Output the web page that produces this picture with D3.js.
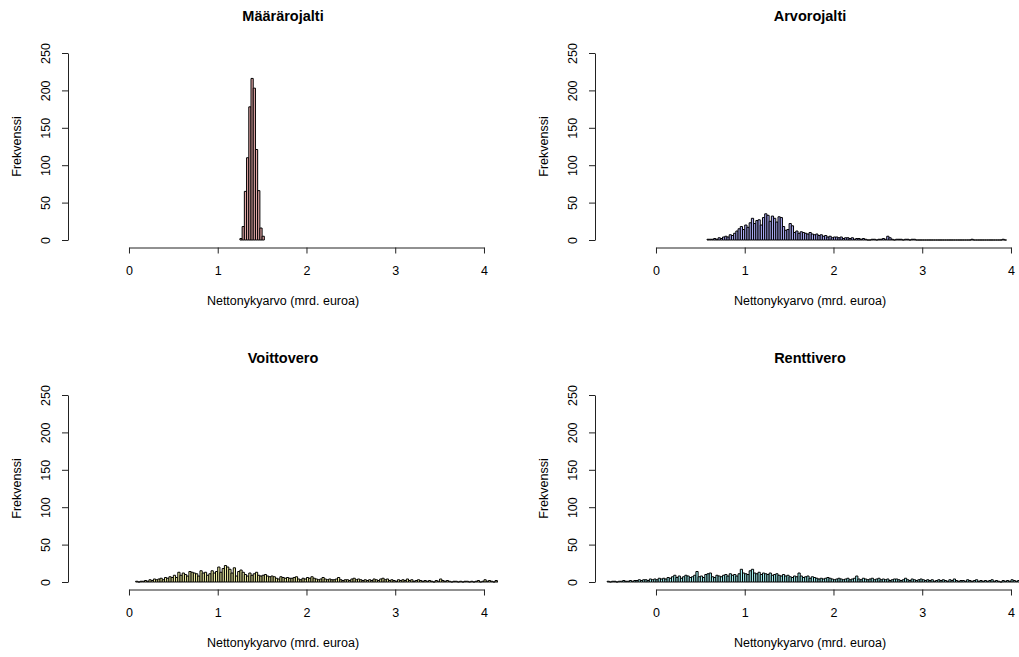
<!DOCTYPE html>
<html>
<head>
<meta charset="utf-8">
<script src="https://cdn.jsdelivr.net/npm/d3@7"></script>
<style>
  body { margin: 0; background: #fff; }
  svg { display: block; font-family: "Liberation Sans", Arial, sans-serif; }
</style>
</head>
<body>
<div id="chart"></div>
<script>
// histogram data, bin width 0.025 (mrd. euroa), counts
var binWidth = 0.025;

var titles = ["Määrärojalti", "Arvorojalti", "Voittovero", "Renttivero"];
var fills = ["#e4a8a8", "#aaaaf4", "#f0f0a4", "#a4f0f0"];

var yTicks = [0, 50, 100, 150, 200, 250];
var xTicks = [0, 1, 2, 3, 4];

var maaraStart = 1.25;
var maaraCounts = [2, 18, 65, 110, 178, 216, 203, 121, 66, 16, 5];

var arvoStart = 0.575;
var arvoCounts = [
  1, 1, 1, 2, 1, 3, 2, 4, 5, 4,
  7, 6, 9, 12, 15, 18, 14, 20, 17, 23,
  29, 22, 26, 27, 20, 30, 35, 33, 25, 32,
  29, 24, 31, 30, 18, 13, 14, 22, 19, 10,
  12, 9, 11, 10, 9, 8, 10, 8, 7, 8,
  6, 7, 5, 6, 4, 5, 3, 4, 4, 3,
  4, 2, 3, 3, 2, 3, 1, 2, 2, 1,
  2, 1, 0, 0, 1, 1, 0, 1, 1, 2,
  1, 5, 3, 1, 0, 1, 1, 1, 0, 1,
  1, 0, 1, 1, 0, 0, 0, 0, 0, 0,
  0, 0, 0, 0, 0, 0, 0, 0, 0, 0,
  0, 0, 0, 0, 0, 0, 0, 0, 0, 1,
  0, 0, 0, 0, 0, 0, 0, 0, 0, 0,
  0, 0, 0, 1, 0
];

var voittoStart = 0.075;
var voittoCounts = [
  1, 0, 1, 1, 2, 1, 3, 2, 4, 3,
  4, 5, 3, 6, 5, 7, 6, 9, 6, 13,
  9, 12, 10, 8, 14, 13, 12, 11, 8, 15,
  12, 13, 9, 11, 15, 12, 14, 20, 13, 18,
  22, 20, 17, 12, 19, 8, 14, 16, 13, 10,
  8, 12, 9, 11, 13, 9, 8, 9, 10, 8,
  7, 8, 7, 5, 4, 7, 6, 5, 6, 5,
  5, 6, 7, 4, 3, 5, 4, 6, 5, 7,
  5, 4, 3, 4, 6, 4, 3, 4, 3, 3,
  4, 6, 3, 2, 3, 3, 2, 4, 5, 3,
  4, 3, 2, 3, 2, 3, 2, 4, 3, 2,
  4, 5, 3, 4, 2, 3, 2, 1, 3, 2,
  3, 2, 4, 2, 3, 1, 2, 3, 2, 1,
  2, 1, 2, 1, 0, 2, 1, 4, 2, 1,
  2, 1, 0, 1, 1, 0, 1, 0, 1, 1,
  0, 1, 0, 1, 2, 0, 1, 3, 1, 2,
  1, 0, 2, 1, 2
];

var renttiStart = -0.55;
var renttiCounts = [
  1, 0, 1, 1, 0, 1, 1, 2, 1, 1,
  2, 1, 2, 2, 3, 2, 3, 3, 2, 4,
  3, 4, 3, 5, 4, 5, 4, 6, 5, 7,
  9, 6, 8, 5, 7, 9, 8, 6, 7, 9,
  14, 7, 8, 6, 10, 11, 12, 7, 6, 9,
  8, 7, 9, 10, 8, 11, 9, 10, 8, 11,
  17, 12, 11, 10, 15, 17, 12, 11, 13, 10,
  12, 11, 10, 12, 9, 10, 11, 9, 8, 10,
  8, 9, 7, 6, 8, 7, 12, 8, 6, 7,
  8, 5, 7, 6, 5, 4, 5, 4, 5, 6,
  5, 4, 3, 4, 5, 4, 3, 4, 5, 3,
  4, 5, 8, 4, 3, 5, 4, 3, 4, 5,
  3, 4, 5, 3, 4, 3, 4, 2, 3, 4,
  4, 3, 2, 3, 5, 3, 2, 4, 3, 2,
  3, 4, 3, 2, 3, 2, 3, 1, 2, 3,
  2, 3, 2, 1, 3, 2, 4, 2, 1, 2,
  2, 1, 3, 2, 1, 2, 3, 1, 2, 1,
  2, 1, 2, 3, 1, 2, 1, 0, 2, 1,
  2, 1, 3, 2, 1, 2, 1, 2, 1, 2
];

var starts = [maaraStart, arvoStart, voittoStart, renttiStart];
var counts = [maaraCounts, arvoCounts, voittoCounts, renttiCounts];

var width = 1019, height = 657;
var svg = d3.select("#chart").append("svg")
  .attr("width", width)
  .attr("height", height);

// panel offsets (2 x 2 layout)
var colStep = 527, rowStep = 342;

function drawPanel(i) {
  var dx = (i % 2) * colStep,
      dy = Math.floor(i / 2) * rowStep;

  var left = 68 + dx, right = 498 + dx,
      top = 45.5 + dy, bottom = 247.5 + dy;

  var x = d3.scaleLinear().domain([-0.687, 4.158]).range([left, right]);
  var y = d3.scaleLinear().domain([0, 250]).range([240 + dy, 53 + dy]);
  var xAxisScale = d3.scaleLinear().domain([0, 4]).range([x(0), x(4)]);

  var g = svg.append("g");

  g.append("clipPath").attr("id", "clip" + i)
    .append("rect")
    .attr("x", left).attr("y", top)
    .attr("width", right - left).attr("height", bottom - top);

  var bins = counts[i].map(function (c, k) {
    var x0 = starts[i] + k * binWidth;
    return { x0: x0, x1: x0 + binWidth, n: c };
  });

  // bars as closed paths so empty bins still leave their base line (like R's hist)
  g.append("g")
    .attr("clip-path", "url(#clip" + i + ")")
    .selectAll("path")
    .data(bins)
    .enter().append("path")
    .attr("d", function (d) {
      var p = d3.path();
      p.moveTo(x(d.x0), y(0));
      p.lineTo(x(d.x1), y(0));
      p.lineTo(x(d.x1), y(d.n));
      p.lineTo(x(d.x0), y(d.n));
      p.closePath();
      return p.toString();
    })
    .attr("fill", fills[i])
    .attr("stroke", "#000")
    .attr("stroke-width", 1);

  // y axis
  var ya = g.append("g")
    .attr("transform", "translate(" + left + ",0)")
    .call(d3.axisLeft(y).tickValues(yTicks).tickSize(6).tickSizeOuter(0).tickFormat(d3.format("d")));
  ya.selectAll("text")
    .attr("transform", "rotate(-90)")
    .attr("x", 0).attr("y", -18).attr("dy", 0)
    .attr("text-anchor", "middle");

  // x axis
  var xa = g.append("g")
    .attr("transform", "translate(0," + bottom + ")")
    .call(d3.axisBottom(xAxisScale).tickValues(xTicks).tickSize(6).tickSizeOuter(0).tickFormat(d3.format("d")));
  xa.selectAll("text").attr("y", 0).attr("dy", 27.5);

  [ya, xa].forEach(function (a) {
    a.attr("font-size", 12.5).attr("font-family", null);
    a.selectAll("text").attr("fill", "#000");
    a.selectAll("line, path").attr("stroke", "#222");
  });

  var cx = (left + right) / 2;

  g.append("text")
    .attr("x", cx).attr("y", 21 + dy)
    .attr("text-anchor", "middle")
    .attr("font-size", 14.5).attr("font-weight", "bold")
    .text(titles[i]);

  g.append("text")
    .attr("x", cx).attr("y", 305 + dy)
    .attr("text-anchor", "middle")
    .attr("font-size", 12.5)
    .text("Nettonykyarvo (mrd. euroa)");

  g.append("text")
    .attr("transform", "translate(" + (20.5 + dx) + "," + (146.5 + dy) + ") rotate(-90)")
    .attr("text-anchor", "middle")
    .attr("font-size", 12.5)
    .text("Frekvenssi");
}

for (var i = 0; i < 4; i++) drawPanel(i);
</script>
</body>
</html>
